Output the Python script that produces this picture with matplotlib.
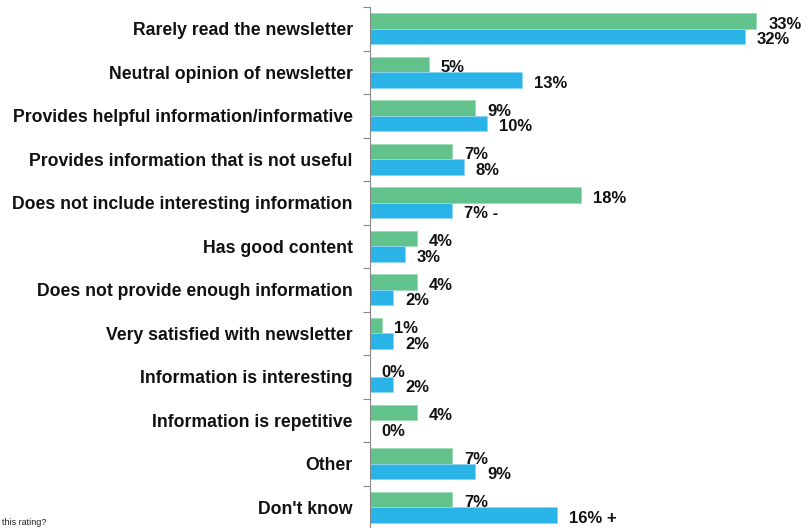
# horizontal grouped bar chart of newsletter rating reasons

import matplotlib
matplotlib.use("Agg")
import matplotlib.pyplot as plt
import numpy as np

# categories, top to bottom
categories = [
    "Rarely read the newsletter",
    "Neutral opinion of newsletter",
    "Provides helpful information/informative",
    "Provides information that is not useful",
    "Does not include interesting information",
    "Has good content",
    "Does not provide enough information",
    "Very satisfied with newsletter",
    "Information is interesting",
    "Information is repetitive",
    "Other",
    "Don't know",
]

# green series (first) and blue series (second), in percent
green_values = [33, 5, 9, 7, 18, 4, 4, 1, 0, 4, 7, 7]
blue_values = [32, 13, 10, 8, 7, 3, 2, 2, 2, 0, 9, 16]

# suffix markers shown next to some labels
green_marks = ["", "", "", "", "", "", "", "", "", "", "", ""]
blue_marks = ["", "", "", "", " -", "", "", "", "", "", "", " +"]

green_color = "#62C28C"
blue_color = "#29B3E6"

plt.rcParams["font.family"] = ["Liberation Sans", "DejaVu Sans"]
fs = 12.7
val_fs = 12

fig = plt.figure(figsize=(8.09, 5.28), dpi=100)
ax = fig.add_axes([370 / 809, -0.002, 1 - 370 / 809 - 0.007, 1 - 7 / 528 + 0.002])

y = np.arange(len(categories))
h = 0.36

ax.barh(y - h / 2, green_values, height=h, color=green_color, edgecolor="#9fdcb8", linewidth=0.6)
ax.barh(y + h / 2, blue_values, height=h, color=blue_color, edgecolor="#8fd6f2", linewidth=0.6)

# value labels, baseline sitting on the bottom edge of each bar
for i in range(len(categories)):
    ax.annotate(f"{green_values[i]}%{green_marks[i]}", (green_values[i], y[i]),
                xytext=(8.5, 0), textcoords="offset points", va="baseline", ha="left",
                fontsize=val_fs, fontweight="bold", color="#111111")
    ax.annotate(f"{blue_values[i]}%{blue_marks[i]}", (blue_values[i], y[i] + h),
                xytext=(8.5, 0), textcoords="offset points", va="baseline", ha="left",
                fontsize=val_fs, fontweight="bold", color="#111111")

ax.set_xlim(0, 37)
ax.set_ylim(len(categories) - 0.5, -0.5)

ax.set_yticks(y)
ax.set_yticklabels(categories, fontsize=fs, fontweight="bold", color="#111111")
ax.tick_params(axis="y", which="major", length=0, pad=12.5)
ax.set_yticks(np.arange(-0.5, len(categories) + 0.5, 1), minor=True)
ax.tick_params(axis="y", which="minor", length=5, color="#888888", width=0.8)
ax.set_xticks([])

for side in ["top", "right", "bottom"]:
    ax.spines[side].set_visible(False)
ax.spines["left"].set_color("#888888")
ax.spines["left"].set_linewidth(0.8)

# cut-off footnote text at bottom left
fig.text(0.003, 0.011, "this rating?", fontsize=6.5, color="#222222", ha="left", va="center")

fig.savefig("out.png", dpi=100)
